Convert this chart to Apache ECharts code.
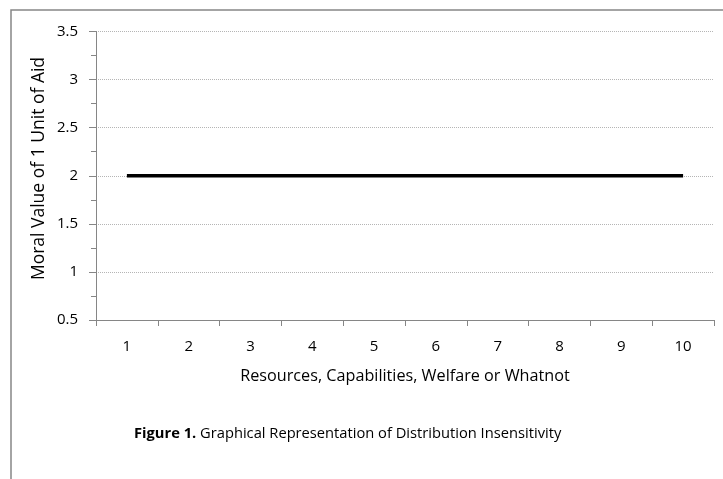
<!DOCTYPE html>
<html><head><meta charset="utf-8">
<script src="https://cdn.jsdelivr.net/npm/echarts@6/dist/echarts.min.js"></script>
<style>html,body{margin:0;padding:0;background:#fff}#c{width:723px;height:479px}</style>
</head><body><div id="c"></div>
<script>
const categories = ['1','2','3','4','5','6','7','8','9','10'];
const moralValue = [2,2,2,2,2,2,2,2,2,2];
const yMin = 0.5, yMax = 3.5, yStep = 0.5;
const yAxisTitle = 'Moral Value of 1 Unit of Aid';
const xAxisTitle = 'Resources, Capabilities, Welfare or Whatnot';
const captionBold = 'Figure 1.';
const captionText = ' Graphical Representation of Distribution Insensitivity';

const FONT = '"Open Sans", "Liberation Sans", sans-serif';
const chart = echarts.init(document.getElementById('c'), null, {renderer:'canvas'});
chart.setOption({
  animation:false,
  backgroundColor:'#fff',
  grid:{left:96, right:9, top:31.5, bottom:159, containLabel:false},
  xAxis:{
    type:'category', data:categories, boundaryGap:true,
    axisLine:{show:true, lineStyle:{color:'#868686', width:1}},
    axisTick:{show:true, length:6, lineStyle:{color:'#868686'}, alignWithLabel:false},
    axisLabel:{color:'#000', fontFamily:FONT, fontSize:15, margin:19},
    name:xAxisTitle, nameLocation:'middle', nameGap:48, nameMoveOverlap:false,
    nameTextStyle:{color:'#000', fontFamily:FONT, fontSize:16.2},
    splitLine:{show:false}
  },
  yAxis:{
    type:'value', min:yMin, max:yMax, interval:yStep,
    axisLine:{show:true, lineStyle:{color:'#868686', width:1}},
    axisTick:{show:true, length:7, lineStyle:{color:'#868686'}},
    minorTick:{show:true, splitNumber:2, length:5, lineStyle:{color:'#868686'}},
    axisLabel:{color:'#000', fontFamily:FONT, fontSize:15, margin:18,
      formatter:v=>String(v)},
    splitLine:{show:true, lineStyle:{color:'#b5b5b5', type:[1,1], width:1}}
  },
  series:[{
    type:'line', data:moralValue, symbol:'none',
    lineStyle:{color:'#000', width:3.5}
  }],
  graphic:[
    {type:'rect', shape:{x:11, y:10, width:730, height:490}, silent:true,
     style:{fill:'none', stroke:'#868686', lineWidth:1.5}},
    {type:'text', x:39, y:168.5, rotation:Math.PI/2,
     style:{text:yAxisTitle, fontFamily:FONT, fontSize:17.5, fill:'#000',
       align:'center', verticalAlign:'middle'}},
    {type:'text', left:134, top:426,
     style:{text:'{b|'+captionBold+'}{r|'+captionText+'}',
       rich:{b:{fontWeight:'bold', fontFamily:FONT, fontSize:14.7, fill:'#000'},
             r:{fontFamily:FONT, fontSize:14.7, fill:'#000'}},
       fill:'#000'}}
  ]
});
</script></body></html>
